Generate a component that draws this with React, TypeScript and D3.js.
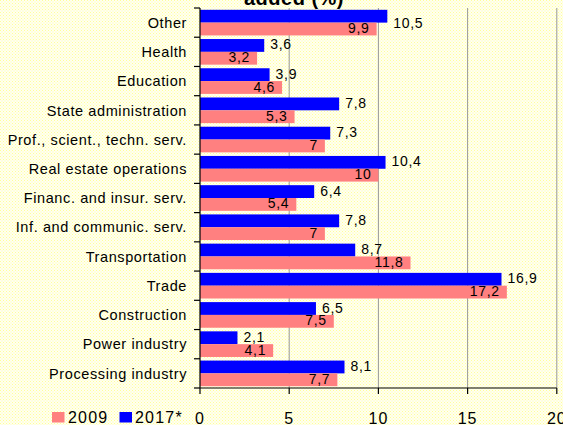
import React from "react";
import * as d3 from "d3";

const categories = [
  "Other",
  "Health",
  "Education",
  "State administration",
  "Prof., scient., techn. serv.",
  "Real estate operations",
  "Financ. and insur. serv.",
  "Inf. and communic. serv.",
  "Transportation",
  "Trade",
  "Construction",
  "Power industry",
  "Processing industry",
];
const values2017 = [10.5, 3.6, 3.9, 7.8, 7.3, 10.4, 6.4, 7.8, 8.7, 16.9, 6.5, 2.1, 8.1];
const values2009 = [9.9, 3.2, 4.6, 5.3, 7, 10, 5.4, 7, 11.8, 17.2, 7.5, 4.1, 7.7];
const xTicks = [0, 5, 10, 15, 20];
const seriesNames = ["2009", "2017*"];

const W = 563;
const H = 425;
const FONT = "'Liberation Sans', Arial, sans-serif";
const BLUE = "#0000FF";
const PINK = "#FF8080";

const fmt = (v: number) => String(v).replace(".", ",");

export default function App() {
  const x = d3.scaleLinear().domain([0, 20]).range([200, 556.8]);
  const y = d3.scaleBand<string>().domain(categories).range([8, 388]).padding(0);
  const bw = y.bandwidth();
  const pad = 1.8;
  const barH = (bw - 2 * pad) / 2;
  const plotTop = 8;
  const plotBottom = 388;

  return (
    <svg
      width={W}
      height={H}
      style={{ position: "absolute", left: 0, top: 0, display: "block" }}
      fontFamily={FONT}
    >
      <defs>
        <pattern id="dots" width="3" height="3" patternUnits="userSpaceOnUse">
          <rect width="3" height="3" fill="#FFFFF0" />
          <rect x="0" y="0" width="1" height="1" fill="#FFFF99" />
          <rect x="1.5" y="1.5" width="1" height="1" fill="#FFFFAA" />
        </pattern>
      </defs>
      <rect x={0} y={0} width={W} height={H} fill="url(#dots)" />

      {/* title (cut off) */}
      <text
        x={294}
        y={4.5}
        textAnchor="middle"
        fontSize={20}
        fontWeight="bold"
        letterSpacing={0.5}
        fill="#000"
      >
        added (%)
      </text>

      {/* gridlines */}
      {xTicks
        .filter((t) => t > 0)
        .map((t) => (
          <line
            key={"g" + t}
            x1={x(t)}
            x2={x(t)}
            y1={plotTop}
            y2={plotBottom}
            stroke="#999999"
            strokeWidth={1}
          />
        ))}

      {/* bars */}
      {categories.map((c, i) => {
        const y0 = y(c)!;
        return (
          <g key={c}>
            <rect
              x={x(0)}
              y={y0 + pad}
              width={x(values2017[i]) - x(0)}
              height={barH}
              fill={BLUE}
            />
            <rect
              x={x(0)}
              y={y0 + pad + barH}
              width={x(values2009[i]) - x(0)}
              height={barH}
              fill={PINK}
            />
          </g>
        );
      })}

      {/* value labels */}
      {categories.map((c, i) => {
        const y0 = y(c)!;
        const blueCenter = Math.max(y0 + pad + barH / 2 - 1, plotTop + 15);
        const pinkCenter = y0 + pad + barH * 1.5 - 1;
        return (
          <g key={"l" + c} fontSize={14} letterSpacing={0.7} fill="#000">
            <text x={x(values2017[i]) + 6} y={blueCenter} dy="0.36em">
              {fmt(values2017[i])}
            </text>
            <text
              x={x(values2009[i]) - 7}
              y={pinkCenter}
              dy="0.36em"
              textAnchor="end"
            >
              {fmt(values2009[i])}
            </text>
          </g>
        );
      })}

      {/* y axis */}
      <line x1={200} x2={200} y1={plotTop} y2={plotBottom} stroke="#000" strokeWidth={1.2} />
      {[...categories.map((c) => y(c)!), plotBottom].map((yy, i) => (
        <line key={"yt" + i} x1={194} x2={200} y1={yy} y2={yy} stroke="#000" strokeWidth={1.2} />
      ))}
      {categories.map((c) => (
        <text
          key={"yl" + c}
          x={187}
          y={y(c)! + bw / 2}
          dy="0.36em"
          textAnchor="end"
          fontSize={14.5}
          letterSpacing={0.6}
          fill="#000"
        >
          {c}
        </text>
      ))}

      {/* x axis */}
      <line x1={200} x2={x(20)} y1={plotBottom} y2={plotBottom} stroke="#000" strokeWidth={1.2} />
      {xTicks.map((t) => (
        <g key={"xt" + t}>
          <line x1={x(t)} x2={x(t)} y1={plotBottom} y2={plotBottom + 6} stroke="#000" strokeWidth={1.2} />
          <text
            x={x(t)}
            y={424}
            textAnchor="middle"
            fontSize={16}
            letterSpacing={1}
            fill="#000"
          >
            {t}
          </text>
        </g>
      ))}

      {/* legend */}
      <rect x={52} y={412} width={12.5} height={10.5} fill={PINK} />
      <text x={68} y={423.3} fontSize={16} letterSpacing={1.2} fill="#000">
        {seriesNames[0]}
      </text>
      <rect x={119.5} y={412} width={12.5} height={10.5} fill={BLUE} />
      <text x={135} y={423.3} fontSize={16} letterSpacing={1.2} fill="#000">
        {seriesNames[1]}
      </text>
    </svg>
  );
}
